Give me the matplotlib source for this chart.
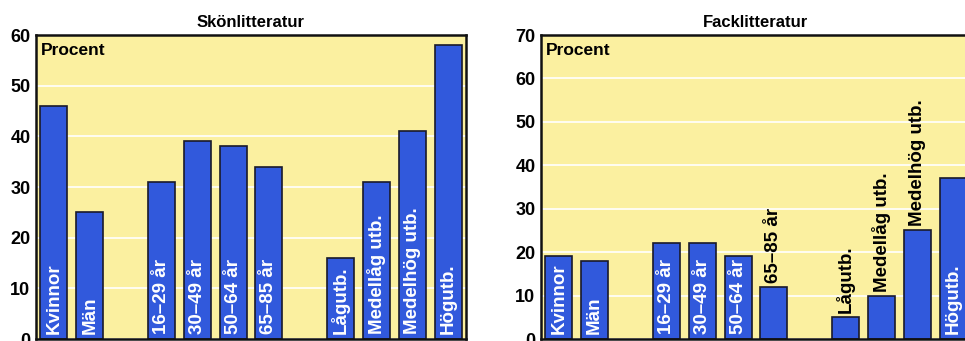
import numpy as np
import matplotlib
matplotlib.use('Agg')
from matplotlib import pyplot as plt

plt.rcParams['font.family'] = ['Liberation Sans', 'DejaVu Sans']

categories = ['Kvinnor', 'Män', '', '16–29 år', '30–49 år', '50–64 år', '65–85 år',
              '', 'Lågutb.', 'Medellåg utb.', 'Medelhög utb.', 'Högutb.']
skon_values = [46, 25, None, 31, 39, 38, 34, None, 16, 31, 41, 58]
fack_values = [19, 18, None, 22, 22, 19, 12, None, 5, 10, 25, 37]
titles = ['Skönlitteratur', 'Facklitteratur']
ymax = [60, 70]

BG = '#fbf0a0'
BAR = '#3159dc'


def draw_panel(fig, ax, values, title, top):
    x = [i for i, v in enumerate(values) if v is not None]
    h = [v for v in values if v is not None]
    labels = [categories[i] for i in x]
    ax.set_facecolor(BG)
    ax.set_axisbelow(True)
    ax.bar(x, h, width=0.75, color=BAR, edgecolor='#1a1a2a', linewidth=1.2)
    ax.set_xlim(-0.5, len(values) - 0.5)
    ax.set_ylim(0, top)
    ax.set_yticks(np.arange(0, top + 1, 10))
    ax.set_xticks([])
    ax.tick_params(axis='y', length=0, labelsize=13, pad=4)
    for t in ax.get_yticklabels():
        t.set_fontweight('bold')
    ax.yaxis.grid(True, color='white', linewidth=1.2)
    for s in ax.spines.values():
        s.set_linewidth(1.8)
        s.set_color('#111111')
    ax.set_title(title, fontsize=12, fontweight='bold', pad=6)
    ax.text(0.012, 0.975, 'Procent', transform=ax.transAxes, ha='left', va='top',
            fontsize=12.5, fontweight='bold')

    fig.canvas.draw()
    renderer = fig.canvas.get_renderer()
    px_per_unit = ax.transData.transform((0, 1))[1] - ax.transData.transform((0, 0))[1]
    for xi, hi, lab in zip(x, h, labels):
        t = ax.text(xi, 0, lab, rotation=90, ha='center', va='bottom', color='white',
                    fontsize=13.5, fontweight='bold')
        t.set_position((xi, 5 / px_per_unit))
        ext = t.get_window_extent(renderer)
        if ext.height + 6 > hi * px_per_unit:
            t.set_color('black')
            t.set_position((xi, hi + 4 / px_per_unit))


def main():
    fig = plt.figure(figsize=(9.65, 3.41), dpi=100)
    ax1 = fig.add_axes([36 / 965, 2 / 341, 430 / 965, 304 / 341])
    ax2 = fig.add_axes([541 / 965, 2 / 341, 430 / 965, 304 / 341])
    draw_panel(fig, ax1, skon_values, titles[0], ymax[0])
    draw_panel(fig, ax2, fack_values, titles[1], ymax[1])
    fig.savefig('out.png', dpi=100)


if __name__ == '__main__':
    main()
